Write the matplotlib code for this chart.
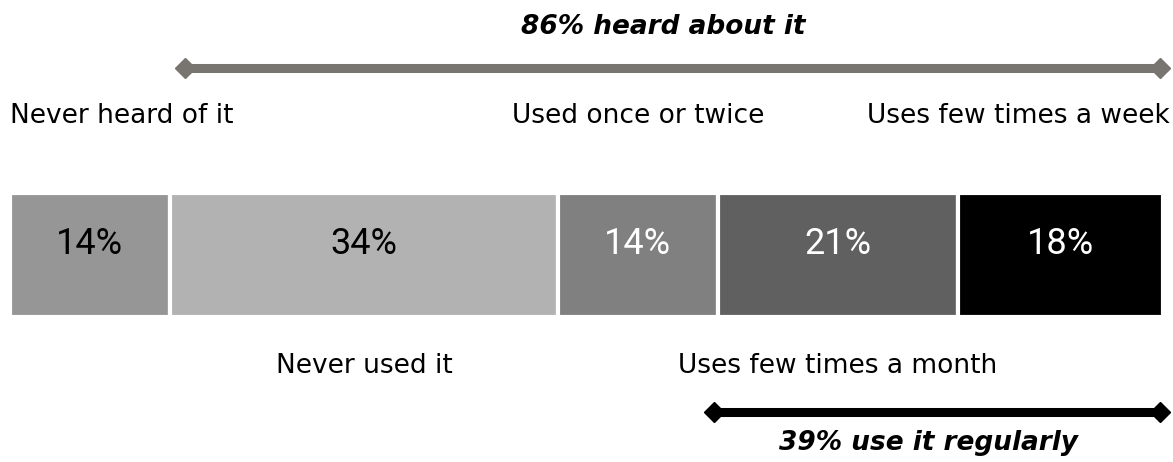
import matplotlib.pyplot as plt

# survey shares, left to right
labels = ['Never heard of it', 'Never used it', 'Used once or twice',
          'Uses few times a month', 'Uses few times a week']
shares = [14, 34, 14, 21, 18]
colors = ['#969696', '#b2b2b2', '#808080', '#606060', '#000000']
text_colors = ['black', 'black', 'white', 'white', 'white']

heard = 86
regular = 39

fig = plt.figure(figsize=(11.73, 4.62), dpi=100)
ax = fig.add_axes([10 / 1173, 0, 1153 / 1173, 1])
ax.set_xlim(0, sum(shares))
ax.set_ylim(462, 0)
ax.axis('off')

lefts = [sum(shares[:i]) for i in range(len(shares))]
ax.barh(255, shares, left=lefts, height=124, color=colors,
        edgecolor='white', linewidth=3)

for left, val, tc in zip(lefts, shares, text_colors):
    ax.text(left + val / 2, 244, f'{val}%', ha='center', va='center',
            fontsize=26, color=tc, family='Roboto')

# category labels, alternating above and below the bar
font_lab = {'family': 'DejaVu Sans', 'size': 19, 'color': 'black'}
ax.text(0, 116, labels[0], ha='left', va='center', fontdict=font_lab)
ax.text(lefts[1] + shares[1] / 2, 366, labels[1], ha='center', va='center', fontdict=font_lab)
ax.text(lefts[2] + shares[2] / 2, 116, labels[2], ha='center', va='center', fontdict=font_lab)
ax.text(lefts[3] + shares[3] / 2, 366, labels[3], ha='center', va='center', fontdict=font_lab)
ax.text(sum(shares) + 0.6, 116, labels[4], ha='right', va='center', fontdict=font_lab)

# brackets
total = sum(shares)
ax.plot([total - heard + 0.3, total - 0.3], [68, 68], color='#78746f', lw=6.5,
        marker='D', markersize=10, solid_capstyle='butt', clip_on=False)
ax.plot([total - regular - 0.3, total - 0.3], [412, 412], color='black', lw=6.5,
        marker='D', markersize=10, solid_capstyle='butt', clip_on=False)

ax.text(57.2, 27, f'{heard}% heard about it', ha='center', va='center',
        fontsize=19, fontweight='bold', fontstyle='italic')
ax.text(80.5, 443, f'{regular}% use it regularly', ha='center', va='center',
        fontsize=19, fontweight='bold', fontstyle='italic')

plt.savefig('out.png', dpi=100)
